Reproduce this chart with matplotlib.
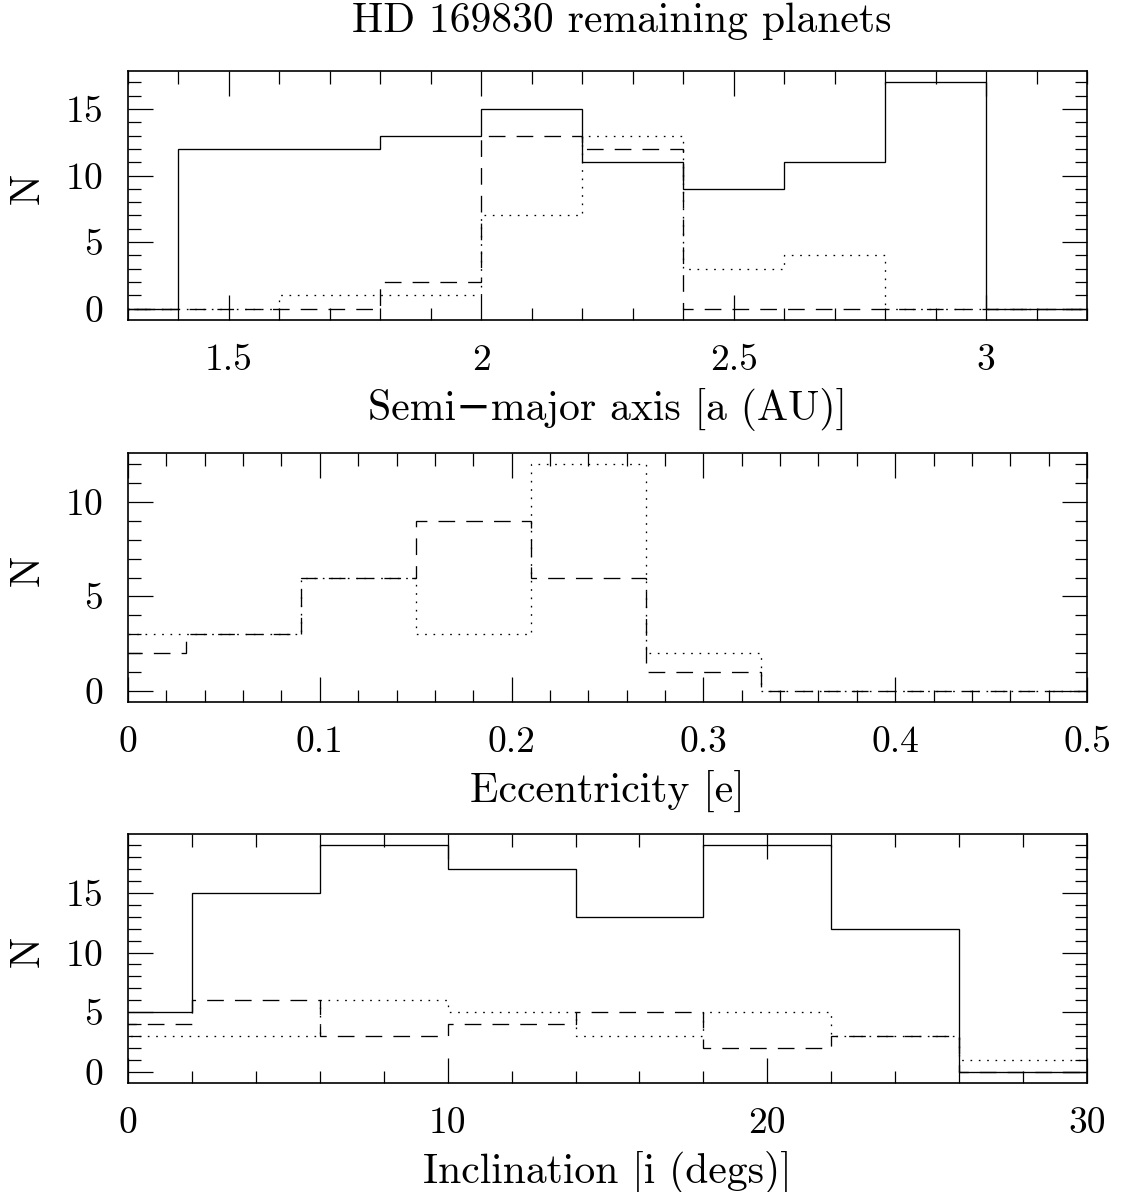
import matplotlib
matplotlib.use("Agg")
import matplotlib.pyplot as plt
from matplotlib.ticker import MultipleLocator, FormatStrFormatter

# semi-major axis histograms, 0.2 AU bins
a_edges = [1.2, 1.4, 1.6, 1.8, 2.0, 2.2, 2.4, 2.6, 2.8, 3.0, 3.2]
a_solid = [0, 12, 12, 13, 15, 11, 9, 11, 17, 0]
a_dashed = [0, 0, 0, 2, 13, 12, 0, 0, 0, 0]
a_dotted = [0, 0, 1, 1, 7, 13, 3, 4, 0, 0]

# eccentricity histograms, bins of 0.06 centred on 0, 0.06, ...
e_edges = [-0.03, 0.03, 0.09, 0.15, 0.21, 0.27, 0.33, 0.39, 0.45, 0.51]
e_dashed = [2, 3, 6, 9, 6, 1, 0, 0, 0]
e_dotted = [3, 3, 6, 3, 12, 2, 0, 0, 0]

# inclination histograms, 4 degree bins centred on 0, 4, ...
i_edges = [-2, 2, 6, 10, 14, 18, 22, 26, 30]
i_solid = [5, 15, 19, 17, 13, 19, 12, 0]
i_dashed = [4, 6, 3, 4, 5, 2, 3, 0]
i_dotted = [3, 3, 6, 5, 3, 5, 3, 1]

plt.rcParams['font.family'] = ['cmr10', 'DejaVu Serif']
plt.rcParams['mathtext.fontset'] = 'cm'
plt.rcParams['axes.formatter.use_mathtext'] = True
plt.rcParams['lines.scale_dashes'] = False

FS = 27       # tick labels
LFS = 30      # axis labels and title
DASH = (0, (12.0, 8.0))
DOT = (0, (1.2, 4.8))
LW = 0.95

fig = plt.figure(figsize=(11.22, 11.92), dpi=100)

left, width, height = 128 / 1122, 959 / 1122, 249 / 1192
bottoms = [1 - 320 / 1192, 1 - 702 / 1192, 1 - 1083 / 1192]
axes = [fig.add_axes([left, b, width, height]) for b in bottoms]


def style(ax, xlim, ylim, xmaj, xmin, xlabel):
    ax.set_xlim(*xlim)
    ax.set_ylim(*ylim)
    ax.xaxis.set_major_locator(MultipleLocator(xmaj))
    ax.xaxis.set_minor_locator(MultipleLocator(xmin))
    ax.yaxis.set_major_locator(MultipleLocator(5))
    ax.yaxis.set_minor_locator(MultipleLocator(1))
    ax.xaxis.set_major_formatter(FormatStrFormatter('%g'))
    ax.tick_params(which='both', direction='in', top=True, right=True,
                   width=0.9, labelsize=FS)
    ax.tick_params(which='major', length=18)
    ax.tick_params(which='minor', length=9)
    ax.tick_params(axis='x', which='major', pad=17)
    ax.tick_params(axis='y', which='major', pad=18)
    for sp in ax.spines.values():
        sp.set_linewidth(1.2)
    ax.set_xlabel(xlabel, fontsize=LFS, labelpad=8)
    ax.set_ylabel('N', fontsize=LFS)
    ax.yaxis.set_label_coords(-0.085, 0.53)


ax1, ax2, ax3 = axes

ax1.stairs(a_solid, a_edges, baseline=None, color='black', lw=LW)
ax1.stairs(a_dashed, a_edges, baseline=None, color='black', lw=LW, linestyle=DASH)
ax1.stairs(a_dotted, a_edges, baseline=None, color='black', lw=LW, linestyle=DOT)
style(ax1, (1.3, 3.2), (-0.85, 17.85), 0.5, 0.1, 'Semi\u2212major axis [a (AU)]')

ax2.stairs(e_dashed, e_edges, baseline=None, color='black', lw=LW, linestyle=DASH)
ax2.stairs(e_dotted, e_edges, baseline=None, color='black', lw=LW, linestyle=DOT)
style(ax2, (0, 0.5), (-0.6, 12.6), 0.1, 0.02, 'Eccentricity [e]')

ax3.stairs(i_solid, i_edges, baseline=None, color='black', lw=LW)
ax3.stairs(i_dashed, i_edges, baseline=None, color='black', lw=LW, linestyle=DASH)
ax3.stairs(i_dotted, i_edges, baseline=None, color='black', lw=LW, linestyle=DOT)
style(ax3, (0, 30), (-0.95, 19.95), 10, 2, 'Inclination [i (degs)]')

fig.text(622 / 1122, 1 - 21 / 1192, 'HD 169830 remaining planets',
         ha='center', va='center', fontsize=LFS)

fig.savefig('out.png', dpi=100)
